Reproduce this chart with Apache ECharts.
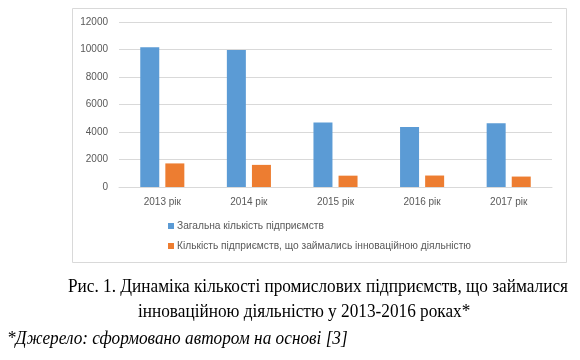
<!DOCTYPE html>
<html><head><meta charset="utf-8">
<script src="https://cdn.jsdelivr.net/npm/echarts@6/dist/echarts.min.js"></script>
<style>html,body{margin:0;padding:0;background:#fff}#c{width:580px;height:360px}</style>
</head><body><div id="c"></div>
<script>
const categories = ['2013 рік', '2014 рік', '2015 рік', '2016 рік', '2017 рік'];
const totalEnterprises = [10160, 9960, 4700, 4360, 4630];
const innovativeEnterprises = [1715, 1609, 824, 834, 759];
const seriesNames = ['Загальна кількість підприємств', 'Кількість підприємств, що займались інноваційною діяльністю'];
const yTicks = { min: 0, max: 12000, interval: 2000 };
const captionLine1 = 'Рис. 1. Динаміка кількості промислових підприємств, що займалися';
const captionLine2 = 'інноваційною діяльністю у 2013-2016 роках*';
const sourceNote = '*Джерело: сформовано автором на основі [3]';

const chart = echarts.init(document.getElementById('c'), null, {renderer: 'canvas'});
const font = 'Liberation Sans';
const capFont = '18px "Liberation Serif"';
chart.setOption({
  animation: false,
  backgroundColor: '#fff',
  grid: { left: 119, right: 28, top: 22, bottom: 173 },
  legend: {
    orient: 'vertical', left: 163, top: 216, itemWidth: 6, itemHeight: 6, itemGap: 10,
    icon: 'rect',
    textStyle: { fontFamily: font, fontSize: 10.2, color: '#595959', padding: [0,0,0,-2] },
    data: seriesNames
  },
  xAxis: {
    type: 'category', data: categories,
    axisLine: { lineStyle: { color: '#d9d9d9', width: 1 } },
    axisTick: { show: false },
    axisLabel: { fontFamily: font, fontSize: 10, color: '#595959', margin: 10 }
  },
  yAxis: {
    type: 'value', min: yTicks.min, max: yTicks.max, interval: yTicks.interval,
    axisLine: { show: false }, axisTick: { show: false },
    splitLine: { lineStyle: { color: '#d9d9d9', width: 1 } },
    axisLabel: { fontFamily: font, fontSize: 10, color: '#595959', margin: 11,
      formatter: v => String(v) }
  },
  series: [
    { name: seriesNames[0], type: 'bar', data: totalEnterprises, barWidth: 19, barGap: '32%',
      itemStyle: { color: '#5b9bd5' } },
    { name: seriesNames[1], type: 'bar', data: innovativeEnterprises, barWidth: 19,
      itemStyle: { color: '#ed7d31' } }
  ],
  graphic: [
    { type: 'rect', shape: { x: 72.5, y: 8.5, width: 494, height: 254 }, silent: true, z: -1,
      style: { fill: 'none', stroke: '#d9d9d9', lineWidth: 1 } },
    { type: 'text', x: 68, y: 287, scaleX: 0.958, style: { text: captionLine1, font: capFont, fill: '#000', verticalAlign: 'middle' } },
    { type: 'text', x: 138, y: 312, scaleX: 0.958, style: { text: captionLine2, font: capFont, fill: '#000', verticalAlign: 'middle' } },
    { type: 'text', x: 7, y: 339, scaleX: 0.958, style: { text: sourceNote, font: 'italic ' + capFont, fill: '#000', verticalAlign: 'middle' } }
  ]
});
</script></body></html>
